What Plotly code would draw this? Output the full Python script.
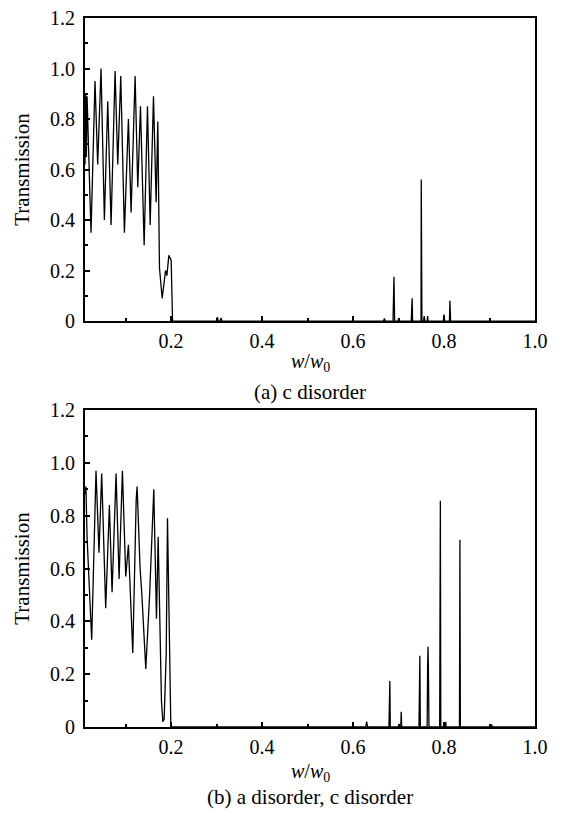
import plotly.graph_objects as go

# (a) c disorder : transmission vs w/w0
a_w = [0.011, 0.0125, 0.0140, 0.0155, 0.0242, 0.033, 0.0389, 0.0462, 0.0536, 0.061,
       0.0683, 0.0771, 0.083, 0.0896, 0.0976, 0.1064, 0.1123, 0.1211, 0.127, 0.1329,
       0.141, 0.1483, 0.1542, 0.1615, 0.1674, 0.171, 0.1747, 0.1806, 0.188, 0.1909,
       0.1953, 0.2004, 0.2034,
       0.30, 0.302, 0.304, 0.308, 0.310, 0.312,
       0.667, 0.669, 0.671, 0.688, 0.6895, 0.690, 0.6915, 0.699, 0.700, 0.701,
       0.728, 0.729, 0.730, 0.731, 0.7495, 0.750, 0.7508, 0.7515, 0.755, 0.7565, 0.758,
       0.763, 0.764, 0.765, 0.7985, 0.800, 0.8015, 0.812, 0.813, 0.8138, 0.8145,
       0.900, 0.901, 0.902, 1.0]
a_t = [0.62, 0.90, 0.65, 0.89, 0.35, 0.95, 0.62, 1.00, 0.40, 0.87,
       0.38, 0.99, 0.62, 0.97, 0.35, 0.80, 0.43, 0.97, 0.53, 0.85,
       0.30, 0.85, 0.38, 0.89, 0.47, 0.79, 0.21, 0.09, 0.20, 0.18,
       0.26, 0.24, 0.0,
       0.0, 0.015, 0.0, 0.0, 0.012, 0.0,
       0.0, 0.01, 0.0, 0.0, 0.09, 0.175, 0.0, 0.0, 0.01, 0.0,
       0.0, 0.05, 0.09, 0.0, 0.0, 0.56, 0.30, 0.0, 0.0, 0.02, 0.0,
       0.0, 0.02, 0.0, 0.0, 0.026, 0.0, 0.0, 0.08, 0.05, 0.0,
       0.0, 0.01, 0.0, 0.0]

# (b) a disorder, c disorder
b_w = [0.011, 0.013, 0.0155, 0.0257, 0.0352, 0.0418, 0.0477, 0.0565, 0.0646, 0.0705,
       0.0793, 0.0859, 0.0932, 0.1006, 0.1064, 0.1094, 0.116, 0.1235, 0.1255, 0.1321,
       0.1360, 0.1446, 0.1530, 0.1622, 0.1681, 0.1718, 0.179, 0.1821, 0.185, 0.1895,
       0.1923, 0.1997,
       0.628, 0.630, 0.632, 0.679, 0.680, 0.681, 0.682, 0.705, 0.706, 0.707,
       0.745, 0.746, 0.747, 0.748, 0.763, 0.764, 0.765, 0.766, 0.767,
       0.7905, 0.791, 0.792, 0.793, 0.8035, 0.804, 0.8045,
       0.834, 0.8345, 0.835, 0.836, 0.904, 0.905, 0.906, 1.0]
b_t = [0.88, 0.91, 0.72, 0.33, 0.97, 0.66, 0.96, 0.45, 0.84, 0.51,
       0.96, 0.56, 0.97, 0.57, 0.69, 0.55, 0.28, 0.86, 0.91, 0.60,
       0.50, 0.22, 0.50, 0.90, 0.41, 0.72, 0.10, 0.02, 0.03, 0.28,
       0.79, 0.0,
       0.0, 0.02, 0.0, 0.0, 0.10, 0.174, 0.0, 0.0, 0.058, 0.0,
       0.0, 0.19, 0.27, 0.0, 0.0, 0.23, 0.304, 0.18, 0.0,
       0.0, 0.456, 0.856, 0.0, 0.0, 0.02, 0.0,
       0.0, 0.355, 0.709, 0.0, 0.0, 0.01, 0.0, 0.0]

x_ticks = [0.2, 0.4, 0.6, 0.8, 1.0]
x_labels = ["0.2", "0.4", "0.6", "0.8", "1.0"]
y_ticks = [0, 0.2, 0.4, 0.6, 0.8, 1.0, 1.2]
y_labels = ["0", "0.2", "0.4", "0.6", "0.8", "1.0", "1.2"]

font = "Liberation Serif, Times New Roman, serif"

fig = go.Figure()
fig.add_trace(go.Scatter(x=a_w, y=a_t, mode="lines", xaxis="x", yaxis="y",
                         line=dict(color="black", width=1.3)))
fig.add_trace(go.Scatter(x=b_w, y=b_t, mode="lines", xaxis="x2", yaxis="y2",
                         line=dict(color="black", width=1.3)))

xax = dict(range=[0.011, 1.0], tickvals=x_ticks, ticktext=x_labels,
           ticks="inside", ticklen=5, tickcolor="black", tickwidth=1.5,
           ticklabelstandoff=1, tickfont=dict(size=20), automargin=False,
           minor=dict(dtick=0.1, tick0=0, ticks="inside", ticklen=3, tickcolor="black"),
           showline=True, linecolor="black", linewidth=2, mirror=True,
           showgrid=False, zeroline=False)
yax = dict(range=[0, 1.2], tickvals=y_ticks, ticktext=y_labels,
           ticks="inside", ticklen=5, tickcolor="black", tickwidth=1.5,
           ticklabelstandoff=4, tickfont=dict(size=20), automargin=False,
           ticklabeloverflow="allow",
           minor=dict(dtick=0.1, tick0=0, ticks="inside", ticklen=3, tickcolor="black"),
           showline=True, linecolor="black", linewidth=2, mirror=True,
           showgrid=False, zeroline=False,
           title=dict(text="Transmission", standoff=15, font=dict(size=21)))

fig.update_layout(
    xaxis=dict(xax, anchor="y"),
    yaxis=dict(yax, anchor="x", domain=[0.5726, 1.0]),
    xaxis2=dict(xax, anchor="y2"),
    yaxis2=dict(yax, anchor="x2", domain=[0.0, 0.4471]),
)

# x-axis titles and captions
fig.add_annotation(text="<i>w</i>/<i>w</i><sub>0</sub>", x=0.5, y=0.5134, xref="paper", yref="paper",
                   showarrow=False, yanchor="middle", font=dict(size=20))
fig.add_annotation(text="(a) c disorder", x=0.5, y=0.4725, xref="paper", yref="paper",
                   showarrow=False, yanchor="middle", font=dict(size=21))
fig.add_annotation(text="<i>w</i>/<i>w</i><sub>0</sub>", x=0.5, y=-0.0635, xref="paper", yref="paper",
                   showarrow=False, yanchor="middle", font=dict(size=20))
fig.add_annotation(text="(b) a disorder, c disorder", x=0.5, y=-0.0987, xref="paper", yref="paper",
                   showarrow=False, yanchor="middle", font=dict(size=21))

# page body has an 8px margin, so the figure is sized to fit inside it
fig.update_layout(width=552, height=805, showlegend=False,
                  margin=dict(l=77, r=25, t=10, b=86),
                  paper_bgcolor="white", plot_bgcolor="white",
                  font=dict(family=font, size=20, color="black"))

fig.write_html("out.html")
